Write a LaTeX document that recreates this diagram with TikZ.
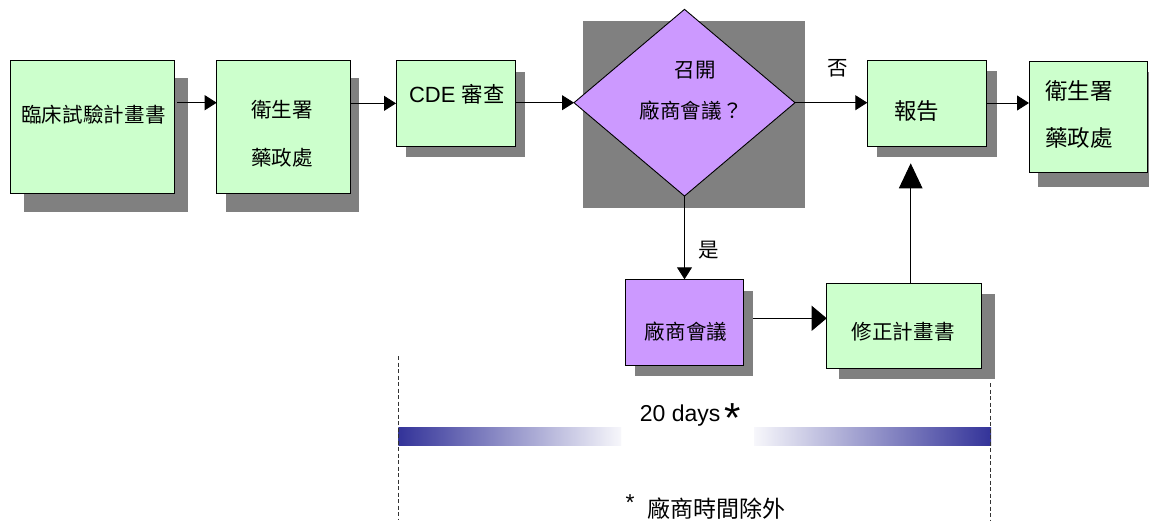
\documentclass[tikz,border=0pt]{standalone}
\usepackage{fontspec}
\setmainfont{Liberation Sans}
\newfontfamily\cjkA[LetterSpace=1]{Noto Sans CJK TC}
\newfontfamily\cjkB{Noto Sans CJK TC}
\usetikzlibrary{arrows.meta,shapes.geometric,calc}
\definecolor{boxgreen}{HTML}{CCFFCC}
\definecolor{boxpurple}{HTML}{CC99FF}
\definecolor{shadowgray}{HTML}{808080}
\definecolor{navy}{HTML}{333399}
\begin{document}
\begin{tikzpicture}[x=1pt,y=-1pt,
  gbox/.style={draw=black,line width=0.9pt,fill=boxgreen,inner sep=0pt,outer sep=0pt},
  pbox/.style={draw=black,line width=0.9pt,fill=boxpurple,inner sep=0pt,outer sep=0pt},
  shd/.style={fill=shadowgray},
  lab/.style={inner sep=0pt,font=\cjkA\fontsize{20.5}{24}\selectfont},
  labbig/.style={inner sep=0pt,font=\cjkB\fontsize{22.5}{26}\selectfont},
  conn/.style={line width=0.9pt,draw=black},
  arr/.style={conn,-{Triangle[length=12pt,width=15pt]}},
  bigarr/.style={conn,-{Triangle[length=15pt,width=25pt]}},
  uparr/.style={conn,-{Triangle[length=25pt,width=23.5pt]}},
  dashline/.style={line width=0.8pt,draw=black!80,dash pattern=on 4pt off 2.5pt}
]
\useasboundingbox (0,0) rectangle (1149,520);
\fill[white] (0,0) rectangle (1149,520);

% shadows
\fill[shd] (24,78.3) rectangle (187.7,211.7);
\fill[shd] (226,78.3) rectangle (359.3,211.7);
\fill[shd] (406,72.3) rectangle (525,157.3);
\fill[shd] (582.7,20.7) rectangle (805,208.3);
\fill[shd] (876.7,71) rectangle (996.7,157.3);
\fill[shd] (1038,71.7) rectangle (1149,186.7);
\fill[shd] (635,291) rectangle (753.3,376);
\fill[shd] (839.3,294) rectangle (995,379.3);

% boxes
\node[gbox,minimum width=163.3pt,minimum height=132.6pt] (b1) at (92.35,127) {};
\node[gbox,minimum width=133.3pt,minimum height=132.6pt] (b2) at (283.35,127) {};
\node[gbox,minimum width=119pt,minimum height=85.3pt] (cde) at (455.5,103.35) {};
\node[pbox,shape=diamond,minimum width=221pt,minimum height=186.7pt] (dec) at (684.5,102.7) {};
\node[gbox,minimum width=118.7pt,minimum height=86pt] (rep) at (926.65,103) {};
\node[gbox,minimum width=118.3pt,minimum height=110.6pt] (fda) at (1088.15,117) {};
\node[pbox,minimum width=118.3pt,minimum height=85.7pt] (mtg) at (684.15,322.15) {};
\node[gbox,minimum width=155pt,minimum height=85pt] (rev) at (904.2,325.8) {};

% texts
\node[lab] (t1) at (93.5,115) {臨床試驗計畫書};
\node[lab] (t2a) at (282,110) {衛生署};
\node[lab] (t2b) at (282,157.7) {藥政處};
\node[inner sep=0pt,anchor=base west,font=\fontsize{22}{26}\selectfont] (t3) at (408.8,102.7) {CDE {\cjkB\fontsize{21.5}{24}\selectfont 審查}};
\node[lab] (t4a) at (695,70) {召開};
\node[lab] (t4b) at (691,111) {廠商會議？};
\node[lab] (tno) at (838,68.5) {否};
\node[lab] (tyes) at (708.5,250) {是};
\node[labbig] (t5) at (916.5,111.5) {報告};
\node[labbig] (t6a) at (1079,90.5) {衛生署};
\node[labbig] (t6b) at (1079,138) {藥政處};
\node[lab] (t7) at (686,331.7) {廠商會議};
\node[lab] (t8) at (903,331.7) {修正計畫書};

% connectors
\coordinate (s1) at (177,102.7);
\draw[arr] (s1) -- (b2.west |- s1);
\draw[arr] (b2.east |- cde.west) -- (cde.west);
\draw[arr] (cde.east |- dec.west) -- (dec.west);
\draw[arr] (dec.east) -- (rep.west |- dec.east);
\draw[arr] (rep.east) -- (fda.west |- rep.east);
\draw[arr] (dec.south) -- (dec.south |- mtg.north);
\coordinate (s2) at (753.3,318.3);
\draw[bigarr] (s2) -- (rev.west |- s2);
\coordinate (s3) at (910.7,163.3);
\draw[uparr] (rev.north -| s3) -- (s3);

% time span
\coordinate (d1t) at (398.3,356);
\coordinate (d1b) at (398.3,520);
\coordinate (d2t) at (990,383);
\coordinate (d2b) at (990,520);
\shade[left color=navy,right color=navy!4] (398.3,427.3) rectangle (621,445);
\shade[left color=navy!4,right color=navy] (754,427.3) rectangle (991,445);
\draw[dashline] (d1t) -- (d1b);
\draw[dashline] (d2t) -- (d2b);

\node[inner sep=0pt,anchor=base west,font=\fontsize{23}{27}\selectfont] (days) at (639.7,421.7) {20 days};
\node[inner sep=0pt,font=\fontsize{42}{46}\selectfont] (dast) at (732.3,418) {*};
\node[inner sep=0pt,font=\fontsize{23}{27}\selectfont] (fast) at (630,503) {*};
\node[inner sep=0pt,font=\cjkB\fontsize{23}{26}\selectfont] (foot) at (716.2,508.3) {廠商時間除外};
\end{tikzpicture}
\end{document}
